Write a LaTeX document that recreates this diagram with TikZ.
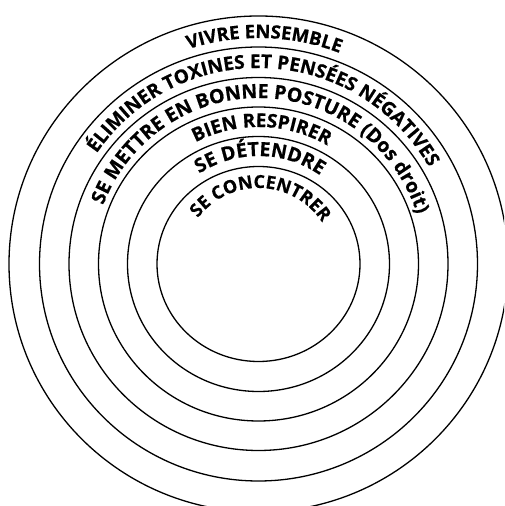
\documentclass[tikz,border=0pt]{standalone}
\usepackage{fontspec}
\newfontfamily\ringfont{Open Sans}[BoldFeatures={FakeBold=0.6}]
\usetikzlibrary{decorations.text}
\tikzset{
  ring/.style={draw=black, line width=1.3pt},
}
\newcommand{\ringlabel}[5]{% start angle, end angle, radius, size, text
  \path[decorate, decoration={text along path, text align=center,
     text={|\ringfont\bfseries\fontsize{#4}{#4}\selectfont|#5}}]
     (C) ++(#1:#3) arc[start angle=#1, end angle=#2, radius=#3];
}
\begin{document}
\begin{tikzpicture}[x=1pt,y=1pt]
\useasboundingbox (0pt,0pt) rectangle (504pt,506pt);
\clip (0pt,0pt) rectangle (504pt,506pt);
\coordinate (C) at (258.5pt,242pt);
\draw[ring] (C) ellipse [x radius=101.5pt, y radius=97.5pt];
\draw[ring] (C) ellipse [x radius=131pt, y radius=127.5pt];
\draw[ring] (C) ellipse [x radius=160pt, y radius=157pt];
\draw[ring] (C) ellipse [x radius=189.5pt, y radius=186.5pt];
\draw[ring] (C) ellipse [x radius=219pt, y radius=217pt];
\draw[ring] (C) ellipse [x radius=249.5pt, y radius=248pt];
\ringlabel{178.5}{-1.5}{226pt}{18.5}{VIVRE ENSEMBLE}
\ringlabel{177.6}{-2.4}{196pt}{19}{ÉLIMINER TOXINES ET PENSÉES NÉGATIVES}
\ringlabel{178.3}{-1.7}{166pt}{19.5}{SE METTRE EN BONNE POSTURE (Dos droit)}
\ringlabel{178.6}{-1.4}{137pt}{19}{BIEN RESPIRER}
\ringlabel{179.2}{-0.8}{108pt}{19.5}{SE DÉTENDRE}
\ringlabel{178}{-2}{76pt}{18}{SE CONCENTRER}
\end{tikzpicture}
\end{document}
